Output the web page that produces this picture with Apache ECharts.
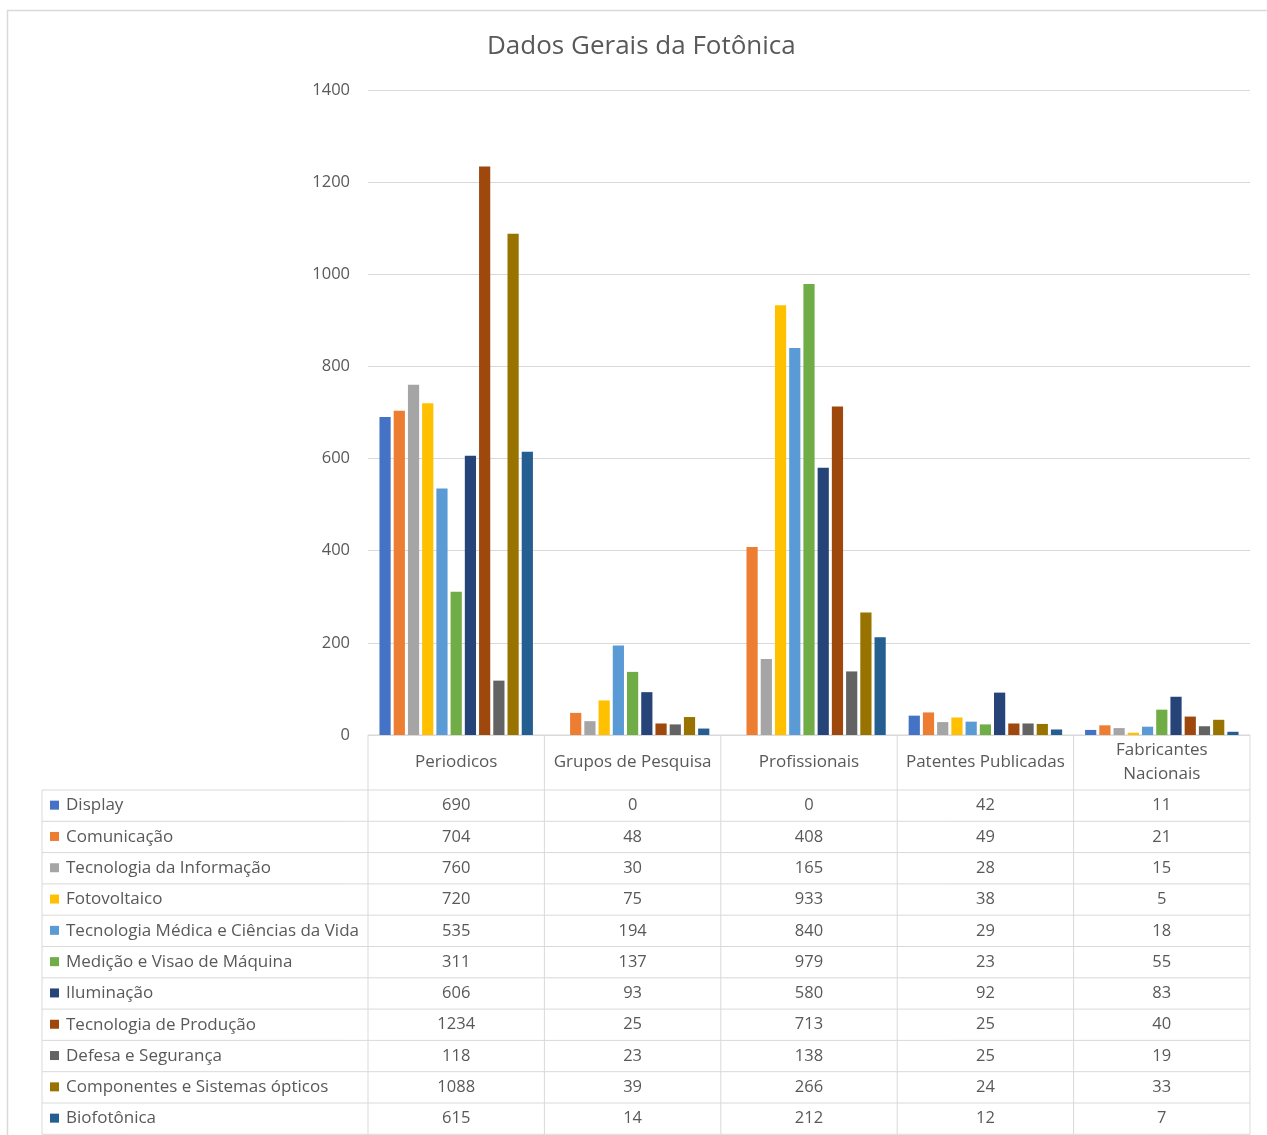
<!DOCTYPE html>
<html><head><meta charset="utf-8">
<script src="https://cdn.jsdelivr.net/npm/echarts@6/dist/echarts.min.js"></script>
<style>html,body{margin:0;padding:0;background:#fff}#c{width:1267px;height:1135px}</style>
</head><body><div id="c"></div>
<script>
const chartTitle = 'Dados Gerais da Fotônica';
const categories = ['Periodicos', 'Grupos de Pesquisa', 'Profissionais', 'Patentes Publicadas', 'Fabricantes Nacionais'];
const seriesNames = ['Display', 'Comunicação', 'Tecnologia da Informação', 'Fotovoltaico', 'Tecnologia Médica e Ciências da Vida', 'Medição e Visao de Máquina', 'Iluminação', 'Tecnologia de Produção', 'Defesa e Segurança', 'Componentes e Sistemas ópticos', 'Biofotônica'];
const display = [690, 0, 0, 42, 11];
const comunicacao = [704, 48, 408, 49, 21];
const tecInformacao = [760, 30, 165, 28, 15];
const fotovoltaico = [720, 75, 933, 38, 5];
const tecMedica = [535, 194, 840, 29, 18];
const medicao = [311, 137, 979, 23, 55];
const iluminacao = [606, 93, 580, 92, 83];
const tecProducao = [1234, 25, 713, 25, 40];
const defesa = [118, 23, 138, 25, 19];
const componentes = [1088, 39, 266, 24, 33];
const biofotonica = [615, 14, 212, 12, 7];
const seriesValues = [display, comunicacao, tecInformacao, fotovoltaico, tecMedica, medicao, iluminacao, tecProducao, defesa, componentes, biofotonica];
const colors = ['#4472C4', '#ED7D31', '#A5A5A5', '#FFC000', '#5B9BD5', '#70AD47', '#264478', '#9E480E', '#636363', '#997300', '#255E91'];
const yMin = 0, yMax = 1400, yStep = 200;

const FONT = 'Open Sans';
const TXT = '#595959';
const LINE = '#d9d9d9';

const chart = echarts.init(document.getElementById('c'), null, {renderer: 'canvas'});
const option = {
  animation: false,
  backgroundColor: '#fff',
  color: colors,
  title: {
    text: chartTitle, left: 482, top: 29,
    textStyle: {fontFamily: FONT, fontSize: 26, fontWeight: 'normal', color: TXT}
  },
  grid: {left: 368, right: 17, top: 90, bottom: 400, containLabel: false},
  xAxis: {
    type: 'category', data: categories,
    axisLine: {show: false}, axisTick: {show: false},
    axisLabel: {
      color: TXT, fontFamily: FONT, fontSize: 17, margin: 27, verticalAlign: 'middle', lineHeight: 24,
      interval: 0,
      formatter: v => v.length > 20 ? v.replace(' ', '\n') : v
    }
  },
  yAxis: {
    type: 'value', min: yMin, max: yMax, interval: yStep,
    axisLine: {show: false}, axisTick: {show: false},
    axisLabel: {color: TXT, fontFamily: FONT, fontSize: 16.5, margin: 18, formatter: v => String(v)},
    splitLine: {lineStyle: {color: LINE, width: 1}}
  },
  series: seriesNames.map((n, i) => ({
    name: n, type: 'bar', data: seriesValues[i],
    barGap: '27%', barCategoryGap: '13%',
    itemStyle: {color: colors[i]}
  }))
};
chart.setOption(option);

// Data table built from the same arrays, positioned through the axis scales
const centers = categories.map(c => chart.convertToPixel({xAxisIndex: 0}, c));
const band = centers[1] - centers[0];
const bounds = [centers[0] - band / 2].concat(centers.map(c => c + band / 2));
const yZero = chart.convertToPixel({yAxisIndex: 0}, 0);
const tableLeft = 42;
const headerBottom = 790;
const rowH = 31.3;
const tableBottom = headerBottom + rowH * seriesNames.length;
const els = [];
const ls = {stroke: LINE, lineWidth: 1};
// outer chart border
els.push({type: 'rect', shape: {x: 7.5, y: 10.5, width: 1300, height: 1200}, style: {fill: null, stroke: LINE, lineWidth: 1.5}, silent: true});
// top line of table under plot
els.push({type: 'line', shape: {x1: bounds[0], y1: yZero, x2: bounds[5], y2: yZero}, style: ls});
// vertical lines
bounds.forEach(x => els.push({type: 'line', shape: {x1: x, y1: yZero, x2: x, y2: tableBottom}, style: ls}));
els.push({type: 'line', shape: {x1: tableLeft, y1: headerBottom, x2: tableLeft, y2: tableBottom}, style: ls});
// horizontal lines
for (let r = 0; r <= seriesNames.length; r++) {
  const y = headerBottom + rowH * r;
  els.push({type: 'line', shape: {x1: tableLeft, y1: y, x2: bounds[5], y2: y}, style: ls});
}
// rows
seriesNames.forEach((n, r) => {
  const cy = headerBottom + rowH * r + rowH / 2;
  els.push({type: 'rect', shape: {x: 50, y: cy - 5, width: 9, height: 9}, style: {fill: colors[r]}});
  els.push({type: 'text', x: 66, y: cy, style: {text: n, fill: TXT, font: '17px "' + FONT + '"', textVerticalAlign: 'middle', textAlign: 'left'}});
  seriesValues[r].forEach((v, c) => {
    els.push({type: 'text', x: centers[c], y: cy, style: {text: String(v), fill: TXT, font: '16.5px "' + FONT + '"', textVerticalAlign: 'middle', textAlign: 'center'}});
  });
});
chart.setOption({graphic: {elements: els}});
</script>
</body></html>
